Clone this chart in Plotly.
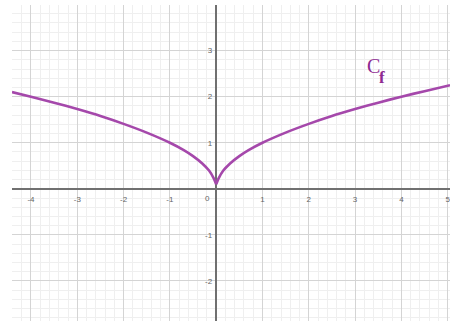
import plotly.graph_objects as go

x_left = [-4.41, -4.0, -3.5, -3.0, -2.5, -2.0, -1.5, -1.0, -0.7, -0.5, -0.3, -0.15, -0.05, 0.0]
y_left = [2.10, 2.00, 1.87, 1.73, 1.58, 1.41, 1.22, 1.00, 0.84, 0.71, 0.55, 0.39, 0.22, 0.10]
x_right = [0.0, 0.05, 0.15, 0.3, 0.5, 0.7, 1.0, 1.5, 2.0, 2.5, 3.0, 3.5, 4.0, 4.5, 5.05]
y_right = [0.10, 0.22, 0.39, 0.55, 0.71, 0.84, 1.00, 1.22, 1.41, 1.58, 1.73, 1.87, 2.00, 2.12, 2.25]

x_ticks = [-4, -3, -2, -1, 1, 2, 3, 4, 5]
y_ticks = [-2, -1, 1, 2, 3]

x_range = [-4.41, 5.05]
y_range = [-2.87, 3.99]

curve_color = "#A548AB"
label_color = "#8E2B92"
tick_font = dict(family="Liberation Sans, Arial", size=8, color="#666666")
serif = "Liberation Serif, DejaVu Serif, serif"

fig = go.Figure()
for xs, ys in [(x_left, y_left), (x_right, y_right)]:
    fig.add_trace(go.Scatter(x=xs, y=ys, mode="lines",
                             line=dict(color=curve_color, width=2.6, shape="spline", smoothing=0.6),
                             hoverinfo="skip", showlegend=False))

# C_f label, drawn as two pieces so the subscript keeps its size
fig.add_annotation(x=3.39, y=2.67, xref="x", yref="y", text="C", showarrow=False,
                   font=dict(family=serif, size=20, color=label_color))
fig.add_annotation(x=3.58, y=2.41, xref="x", yref="y", text="<b>f</b>", showarrow=False,
                   font=dict(family=serif, size=17, color=label_color))
fig.add_annotation(x=-0.19, y=-0.22, xref="x", yref="y", text="0", showarrow=False, font=tick_font)

grid = dict(showgrid=True, gridcolor="#d4d4d4", gridwidth=1,
            zeroline=True, zerolinecolor="#707070", zerolinewidth=1.6,
            showline=False, ticks="", tickfont=tick_font, automargin=False,
            ticklabeloverflow="allow",
            minor=dict(dtick=0.2, showgrid=True, gridcolor="#efefef", gridwidth=1))

fig.update_layout(
    width=450, height=326,
    margin=dict(l=12, r=0, t=5, b=5),
    paper_bgcolor="white", plot_bgcolor="white",
    xaxis=dict(range=x_range, dtick=1, tickvals=x_ticks, ticktext=[str(v) for v in x_ticks],
               anchor="free", position=(0 - y_range[0]) / (y_range[1] - y_range[0]),
               ticklabelstandoff=4, **grid),
    yaxis=dict(range=y_range, dtick=1, tickvals=y_ticks, ticktext=[str(v) for v in y_ticks],
               anchor="free", position=(0 - x_range[0]) / (x_range[1] - x_range[0]),
               ticklabelstandoff=4, **grid),
)

# the page body has a default margin; drop it so the figure sits at the window's corner
fig.write_html("out.html", config={"displayModeBar": False},
               post_script="document.body.style.margin='0';")
